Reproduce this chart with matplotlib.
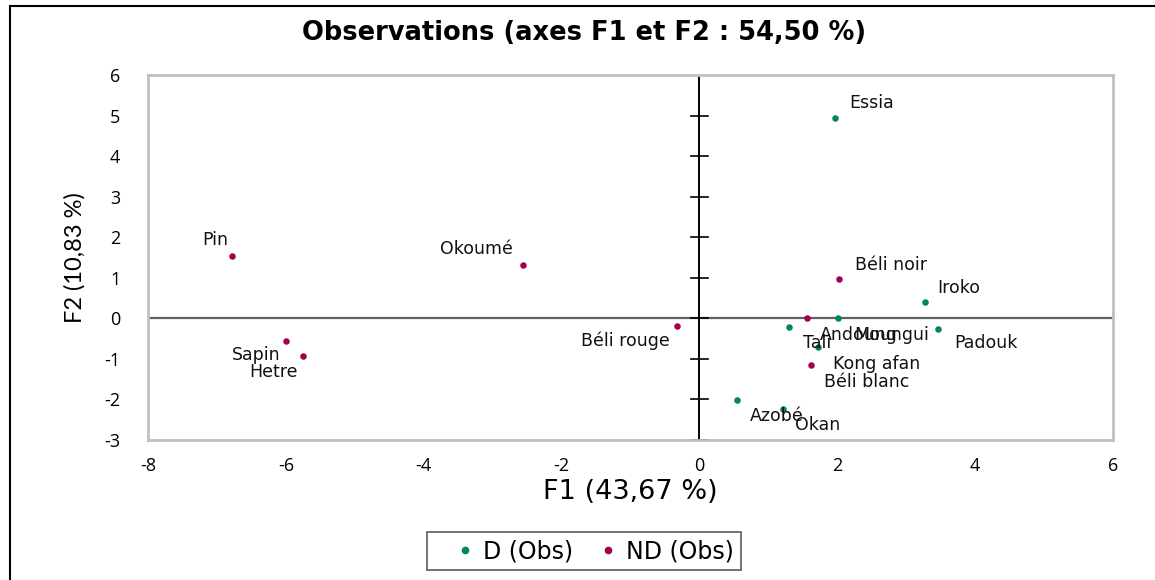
import matplotlib
matplotlib.use("Agg")
import matplotlib.pyplot as plt
from matplotlib.lines import Line2D

plt.rcParams["axes.unicode_minus"] = False

# Data
names = ["Essia", "Iroko", "Moungui", "Padouk", "Tali", "Kong afan", "Azobé", "Okan",
         "Béli noir", "Andoung", "Béli blanc", "Béli rouge", "Okoumé", "Pin", "Sapin", "Hetre"]
f1 = [1.97, 3.27, 2.01, 3.46, 1.30, 1.72, 0.54, 1.21,
      2.02, 1.56, 1.62, -0.33, -2.56, -6.78, -6.00, -5.75]
f2 = [4.95, 0.40, 0.00, -0.27, -0.22, -0.71, -2.02, -2.24,
      0.96, 0.00, -1.16, -0.20, 1.31, 1.53, -0.57, -0.94]
group = ["D"] * 8 + ["ND"] * 8
group_labels = {"D": "D (Obs)", "ND": "ND (Obs)"}
colors = {"D": "#00894F", "ND": "#A50050"}

# label offsets (points) and alignment per label (style)
offsets = {
    "Essia": (10, 4, "left", "bottom"), "Iroko": (9, 4, "left", "bottom"),
    "Moungui": (12, -5.5, "left", "top"), "Padouk": (12, -3.5, "left", "top"),
    "Tali": (10, -5, "left", "top"), "Kong afan": (11, -5.5, "left", "top"),
    "Azobé": (9.5, -4.5, "left", "top"), "Okan": (9, -5, "left", "top"),
    "Béli noir": (11.5, 4, "left", "bottom"), "Andoung": (9.5, -5.5, "left", "top"),
    "Béli blanc": (9, -5.5, "left", "top"), "Béli rouge": (-5, -4, "right", "top"),
    "Okoumé": (-7, 5.5, "right", "bottom"), "Pin": (-3, 5.5, "right", "bottom"),
    "Sapin": (-4, -3.5, "right", "top"), "Hetre": (-3.5, -4.5, "right", "top"),
}

fig = plt.figure(figsize=(11.55, 5.8), dpi=100)
ax = fig.add_axes([148 / 1155, 1 - 440 / 580, (1113 - 148) / 1155, (440 - 75) / 580])

for g in ["D", "ND"]:
    xs = [x for x, gg in zip(f1, group) if gg == g]
    ys = [y for y, gg in zip(f2, group) if gg == g]
    ax.scatter(xs, ys, s=22, color=colors[g], zorder=3, linewidths=0)

lab_font = ["DejaVu Sans"]
for n, x, y in zip(names, f1, f2):
    dx, dy, ha, va = offsets[n]
    ax.annotate(n, (x, y), xytext=(dx, dy), textcoords="offset points",
                ha=ha, va=va, fontsize=12.5, family=lab_font, color="#111111")

ax.set_xlim(-8, 6)
ax.set_ylim(-3, 6)
ax.set_xticks(range(-8, 7, 2))
ax.set_yticks(range(-3, 7))
ax.tick_params(axis="both", length=0, labelsize=13)
for lbl in ax.get_xticklabels() + ax.get_yticklabels():
    lbl.set_family(["Open Sans", "DejaVu Sans"])
ax.tick_params(axis="x", pad=12)
ax.tick_params(axis="y", pad=20)

for sp in ax.spines.values():
    sp.set_color("#c0c0c0")
    sp.set_linewidth(2)

ax.axhline(0, color="#606060", lw=1.6, zorder=1)
ax.axvline(0, color="black", lw=1.4, zorder=1)
for yt in range(-3, 7):
    ax.plot([-0.12, 0.12], [yt, yt], color="black", lw=1.2, zorder=1)

ax.set_xlabel("F1 (43,67 %)", fontsize=19.5, family=["DejaVu Sans"], labelpad=3)
ax.set_ylabel("F2 (10,83 %)", fontsize=17, family=["Lato", "DejaVu Sans"], labelpad=13)

fig.text(584 / 1155, 1 - 33 / 580, "Observations (axes F1 et F2 : 54,50 %)",
         ha="center", va="center", fontsize=18.5, fontweight="bold",
         family=["DejaVu Sans"])

handles = [Line2D([], [], marker="o", ls="", color=colors[g], markersize=4.5,
                  label=group_labels[g]) for g in ["D", "ND"]]
leg = fig.legend(handles=handles, loc="center", bbox_to_anchor=(584 / 1155, 1 - 551 / 580),
                 ncol=2, frameon=True, fancybox=False, edgecolor="#333333",
                 prop={"family": "DejaVu Sans", "size": 17}, handletextpad=-0.55,
                 columnspacing=0.17, borderpad=0.3, handlelength=2.62)
leg.get_frame().set_linewidth(1.2)

# outer frame (left and top edges)
fig.add_artist(Line2D([9.5 / 1155, 9.5 / 1155], [0, 1 - 5.5 / 580], color="black", lw=1.5,
                      transform=fig.transFigure))
fig.add_artist(Line2D([9.5 / 1155, 1], [1 - 5.5 / 580, 1 - 5.5 / 580], color="black", lw=1.5,
                      transform=fig.transFigure))

fig.savefig("out.png", dpi=100)
